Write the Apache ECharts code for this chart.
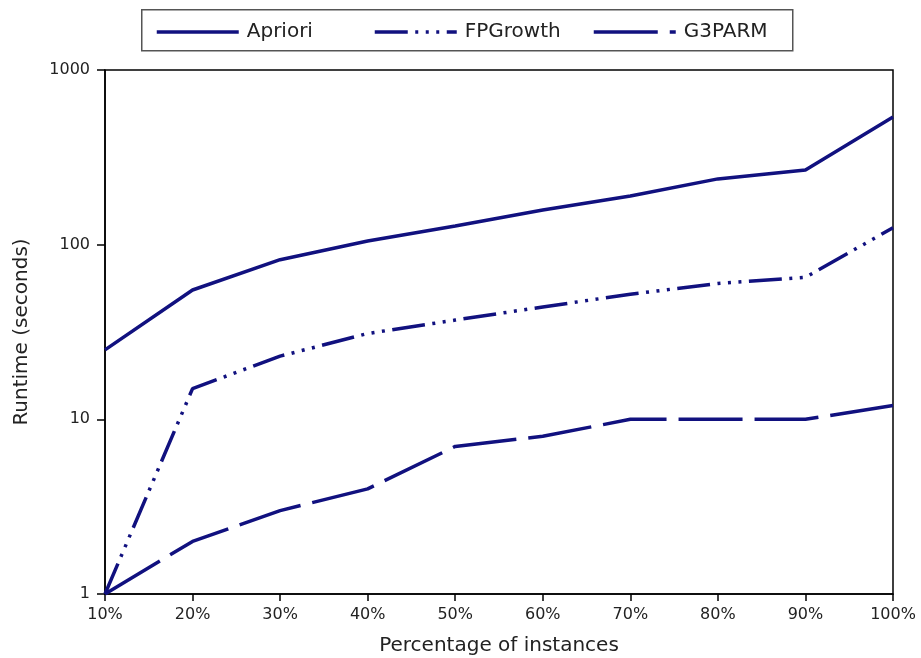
<!DOCTYPE html>
<html>
<head>
<meta charset="utf-8">
<title>Runtime</title>
<script src="https://cdn.jsdelivr.net/npm/echarts@6/dist/echarts.min.js"></script>
<style>
  html, body { margin: 0; padding: 0; background: #fff; }
  #main { width: 921px; height: 658px; }
</style>
</head>
<body>
<div id="main"></div>
<script>
// data
const categories = ['10%', '20%', '30%', '40%', '50%', '60%', '70%', '80%', '90%', '100%']
const apriori = [25, 55, 82, 105, 128, 158, 190, 238, 268, 538]
const fpgrowth = [1, 15, 23, 31, 37, 44, 52, 60, 65, 125]
const g3parm = [1, 2, 3, 4, 7, 8, 10, 10, 10, 12]

const lineColor = '#11117f'
const font = 'DejaVu Sans, sans-serif'

const myChart = echarts.init(document.getElementById('main'), null, { renderer: 'canvas' })

// one legend per entry so they sit like the original columns
function legendAt(name, left) {
  return {
    data: [name],
    left: left,
    top: 17,
    itemWidth: 82,
    itemHeight: 20,
    selectedMode: false,
    itemStyle: { opacity: 0, borderWidth: 0 },
    lineStyle: { width: 3.5 },
    textStyle: {
      fontFamily: font,
      fontSize: 20,
      color: '#222',
      padding: [0, 0, 0, 3]
    }
  }
}

myChart.setOption({
  animation: false,
  backgroundColor: '#fff',
  graphic: [
    {
      type: 'rect',
      left: 141,
      top: 9,
      shape: { width: 651, height: 41 },
      style: { fill: '#fff', stroke: '#555', lineWidth: 1.5 },
      z: -1
    }
  ],
  legend: [
    legendAt('Apriori', 150),
    legendAt('FPGrowth', 368),
    legendAt('G3PARM', 587)
  ],
  grid: {
    left: 105,
    right: 28,
    top: 70,
    bottom: 64,
    show: true,
    borderColor: '#000',
    borderWidth: 1.5,
    containLabel: false,
    outerBoundsMode: 'none'
  },
  xAxis: {
    type: 'category',
    data: categories,
    boundaryGap: false,
    name: 'Percentage of instances',
    nameLocation: 'middle',
    nameGap: 42,
    nameTextStyle: { fontFamily: font, fontSize: 20, color: '#222' },
    axisLine: { lineStyle: { color: '#000', width: 1.5 } },
    axisTick: { show: true, length: 7, lineStyle: { color: '#000', width: 1.5 } },
    axisLabel: { fontFamily: font, fontSize: 16, color: '#222', margin: 13, interval: 0 },
    splitLine: { show: false }
  },
  yAxis: {
    type: 'log',
    logBase: 10,
    min: 1,
    max: 1000,
    name: 'Runtime (seconds)',
    nameLocation: 'middle',
    nameGap: 73,
    nameTextStyle: { fontFamily: font, fontSize: 20, color: '#222' },
    axisLine: { show: true, lineStyle: { color: '#000', width: 1.5 } },
    axisTick: { show: true, length: 8, lineStyle: { color: '#000', width: 1.5 } },
    axisLabel: {
      fontFamily: font,
      fontSize: 16,
      color: '#222',
      margin: 15,
      formatter: function(value) {
        return String(Math.round(value))
      }
    },
    minorTick: { show: false },
    splitLine: { show: false }
  },
  series: [
    {
      name: 'Apriori',
      type: 'line',
      data: apriori,
      symbol: 'none',
      color: lineColor,
      lineStyle: { color: lineColor, width: 3.5, type: 'solid' }
    },
    {
      name: 'FPGrowth',
      type: 'line',
      data: fpgrowth,
      symbol: 'none',
      color: lineColor,
      lineStyle: { color: lineColor, width: 3.5, type: [33, 7.5, 3, 7.5, 3, 7.5, 3, 7.5] }
    },
    {
      name: 'G3PARM',
      type: 'line',
      data: g3parm,
      symbol: 'none',
      color: lineColor,
      lineStyle: { color: lineColor, width: 3.5, type: [64, 12] }
    }
  ]
})
</script>
</body>
</html>
